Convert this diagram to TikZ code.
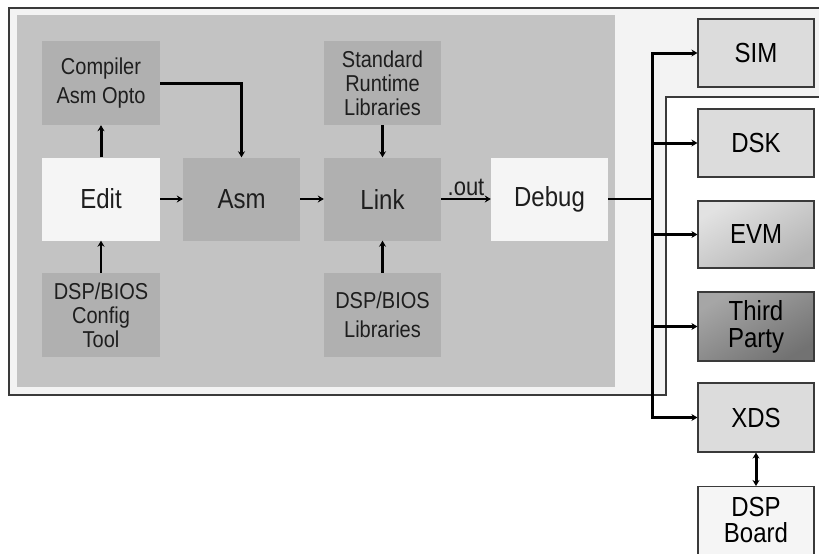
\documentclass[tikz,border=0pt]{standalone}
\usepackage{fontspec}
\setmainfont{Liberation Sans}
\usetikzlibrary{arrows.meta}
\definecolor{framefill}{HTML}{F3F3F3}
\definecolor{framedraw}{HTML}{3A3A3A}
\definecolor{panel}{HTML}{C3C3C3}
\definecolor{darkbox}{HTML}{B0B0B0}
\definecolor{lightbox}{HTML}{F5F5F5}
\definecolor{tgtbox}{HTML}{DCDCDC}
\definecolor{txt}{HTML}{1E1E1E}
\definecolor{evmtop}{HTML}{E2E2E2}
\definecolor{evmbot}{HTML}{B4B4B4}
\definecolor{thtop}{HTML}{A6A6A6}
\definecolor{thbot}{HTML}{727272}
\newcommand{\tall}[1]{\scalebox{1}[1.15]{#1}}
\tikzset{
  base/.style={inner sep=0pt, align=center, text=txt},
  dbox/.style={base, fill=darkbox, minimum width=118pt, minimum height=84pt, font=\fontsize{20}{24}\selectfont},
  lbox/.style={base, fill=lightbox, minimum width=118pt, minimum height=84pt, font=\fontsize{24}{28}\selectfont},
  tbox/.style={base, draw=framedraw, line width=1.2pt, minimum width=116pt, minimum height=68pt, font=\fontsize{24}{25}\selectfont, text=black},
  arr/.style={line width=3pt, -{Stealth[length=6pt,width=7pt]}},
  tarr/.style={line width=2.5pt, -{Stealth[length=6pt,width=7pt]}},
  dbl/.style={line width=3pt, {Stealth[length=6pt,width=7pt]}-{Stealth[length=6pt,width=7pt]}},
}
\begin{document}
\begin{tikzpicture}[x=1pt,y=-1pt]
\useasboundingbox (0,0) rectangle (819,554);
\clip (0,0) rectangle (819,554);
\fill[white] (0,0) rectangle (819,554);
% outer frame
\fill[framefill] (9,8) -- (822,8) -- (822,97) -- (666,97) -- (666,395) -- (9,395) -- cycle;
\draw[framedraw, line width=1.5pt] (822,8) -- (9,8) -- (9,395) -- (666,395) -- (666,97) -- (822,97);
\fill[white] (667,98) rectangle (822,554);
% gray panel
\fill[panel] (17,15) rectangle (615,387);
% left boxes
\node[dbox, minimum height=84pt] (comp) at (101,83) {\tall{Compiler}\\[5pt]\tall{Asm Opto}};
\node[lbox, minimum height=83pt] (edit) at (101,199) {\tall{Edit}};
\node[dbox] (cfg) at (101,315) {\tall{DSP/BIOS}\\\tall{Config}\\\tall{Tool}};
\node[dbox, minimum width=117pt, minimum height=83pt, font=\fontsize{24}{28}\selectfont] (asm) at (241.5,199) {\tall{Asm}};
\node[dbox, minimum width=117pt] (std) at (382.5,83) {\tall{Standard}\\\tall{Runtime}\\\tall{Libraries}};
\node[dbox, minimum width=117pt, minimum height=83pt, font=\fontsize{24}{28}\selectfont] (link) at (382.5,199) {\tall{Link}};
\node[dbox, minimum width=117pt] (bioslib) at (382.5,315) {\tall{DSP/BIOS}\\[5pt]\tall{Libraries}};
\node[lbox, minimum width=117pt, minimum height=83pt] (debug) at (549.5,199) {\tall{Debug}};
% right boxes
\node[tbox, fill=tgtbox] (sim) at (756,53) {\tall{SIM}};
\node[tbox, fill=tgtbox] (dsk) at (756,143) {\tall{DSK}};
\node[tbox, minimum height=67pt, shading=axis, top color=evmtop, bottom color=evmbot, shading angle=30] (evm) at (756,234.5) {};
\node[tbox, minimum height=69pt, shading=axis, top color=thtop, bottom color=thbot, shading angle=30] (third) at (756,326.5) {};
\node[base, font=\fontsize{24}{25}\selectfont, text=black] (evmt) at (evm) {\tall{EVM}};
\node[base, font=\fontsize{24}{27}\selectfont, text=black] (thirdt) at (third) {\tall{Third}\\\tall{Party}};
\node[tbox, fill=tgtbox, minimum height=69pt] (xds) at (756,417.5) {\tall{XDS}};
\node[tbox, fill=lightbox, minimum height=69pt, anchor=north] (board) at (756,486) {};
\node[base, font=\fontsize{24}{26}\selectfont, text=black] (boardt) at (756,520) {\tall{DSP}\\\tall{Board}};
% connectors
\coordinate (busx) at (652,0);
\draw[arr] (edit.north) -- (comp.south);
\draw[arr] (comp.east) -| (asm.north);
\draw[tarr] (cfg.north) -- (edit.south);
\draw[tarr] (edit.east) -- (asm.west);
\draw[tarr] (asm.east) -- (link.west);
\draw[arr] (std.south) -- (link.north);
\draw[arr] (bioslib.north) -- (link.south);
\draw[tarr] (link.east) -- node[above=1pt, font=\fontsize{22}{24}\selectfont, text=txt, inner sep=1pt] {\tall{.out}} (debug.west);
\draw[line width=2.5pt] (debug.east) -- (debug.east -| busx);
\draw[arr] (xds.west -| busx) |- (sim.west);
\draw[arr] (sim.west -| busx) |- (xds.west);
\draw[arr] (dsk.west -| busx) -- (dsk.west);
\draw[arr] (evm.west -| busx) -- (evm.west);
\draw[arr] (third.west -| busx) -- (third.west);
\draw[dbl] (xds.south) -- (board.north);
\end{tikzpicture}
\end{document}
